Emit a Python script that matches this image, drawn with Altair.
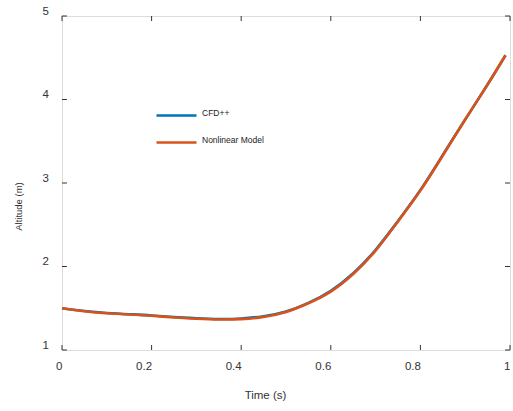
import altair as alt
import pandas as pd

# Altitude history from the two solvers
time_s = [0.0, 0.05, 0.1, 0.15, 0.2, 0.25, 0.3, 0.35, 0.4, 0.45, 0.5,
          0.55, 0.6, 0.65, 0.7, 0.75, 0.8, 0.85, 0.9, 0.95, 0.99]
alt_cfd = [1.50, 1.467, 1.443, 1.428, 1.414, 1.395, 1.381, 1.372, 1.378, 1.405, 1.462,
           1.565, 1.71, 1.92, 2.20, 2.545, 2.915, 3.335, 3.76, 4.18, 4.53]
alt_nonlinear = [1.50, 1.465, 1.44, 1.425, 1.41, 1.39, 1.375, 1.365, 1.37, 1.395, 1.455,
                 1.56, 1.70, 1.91, 2.19, 2.54, 2.91, 3.33, 3.76, 4.18, 4.53]

x_ticks = [0, 0.2, 0.4, 0.6, 0.8, 1]
y_ticks = [1, 2, 3, 4, 5]

series_names = ["CFD++", "Nonlinear Model"]
series_colors = ["#0072BD", "#D95319"]

rows = []
for name, vals in zip(series_names, [alt_cfd, alt_nonlinear]):
    for t, a in zip(time_s, vals):
        rows.append({"time": t, "altitude": a, "series": name})
df = pd.DataFrame(rows)

# inward tick marks on all four sides of the box
tx, ty = 0.011, 0.06
tick_rows = []
for v in x_ticks:
    tick_rows.append({"x": v, "x2": v, "y": 1, "y2": 1 + ty})
    tick_rows.append({"x": v, "x2": v, "y": 5, "y2": 5 - ty})
for v in y_ticks:
    tick_rows.append({"x": 0, "x2": tx, "y": v, "y2": v})
    tick_rows.append({"x": 1, "x2": 1 - tx, "y": v, "y2": v})
ticks_df = pd.DataFrame(tick_rows)

xscale = alt.Scale(domain=[0, 1], nice=False, zero=False)
yscale = alt.Scale(domain=[1, 5], nice=False, zero=False)

label_font = "Liberation Sans"

lines = alt.Chart(df).mark_line(strokeWidth=2.6, interpolate="natural").encode(
    x=alt.X("time:Q", scale=xscale,
            axis=alt.Axis(title="Time (s)", values=x_ticks, ticks=False, tickSize=0,
                          domain=False, grid=False, labelAlign="right", labelBaseline="top",
                          labelPadding=10, labelFontSize=11.5, labelFont=label_font,
                          labelColor="#333333", format="~g",
                          titleFont=label_font, titleFontSize=11.5, titleFontWeight="normal",
                          titleColor="#333333", titleX=203, titleY=45,
                          titleBaseline="middle", titleAlign="center")),
    y=alt.Y("altitude:Q", scale=yscale,
            axis=alt.Axis(title="Altitude (m)", values=y_ticks, ticks=False, tickSize=0,
                          domain=False, grid=False, labelAlign="right", labelBaseline="bottom",
                          labelPadding=13.5, labelFontSize=11.5, labelFont=label_font,
                          labelColor="#333333", format="d",
                          titleFont=label_font, titleFontSize=9.5, titleFontWeight="normal",
                          titleColor="#333333", titleX=-44, titleY=190,
                          titleBaseline="middle", titleAlign="center")),
    color=alt.Color("series:N",
                    scale=alt.Scale(domain=series_names, range=series_colors),
                    legend=alt.Legend(title=None, orient="none", legendX=93, legendY=78,
                                      symbolType="stroke", symbolSize=1600,
                                      symbolStrokeWidth=2.6, labelFontSize=8.5,
                                      labelFont="Liberation Sans Narrow, Liberation Sans",
                                      labelColor="#222222", labelBaseline="alphabetic",
                                      labelOffset=4, rowPadding=-3, padding=0)),
)

ticks = alt.Chart(ticks_df).mark_rule(color="#333333", strokeWidth=1).encode(
    x=alt.X("x:Q", scale=xscale), x2="x2:Q",
    y=alt.Y("y:Q", scale=yscale), y2="y2:Q",
)

chart = alt.layer(lines, ticks).properties(
    width=448, height=334,
    autosize=alt.AutoSizeParams(type="none"),
    padding={"left": 62, "top": 16, "right": 3, "bottom": 61},
).configure_view(stroke="#444444", strokeWidth=1).configure(background="white")

chart.save("out.html", embed_options={"renderer": "svg", "actions": False})
